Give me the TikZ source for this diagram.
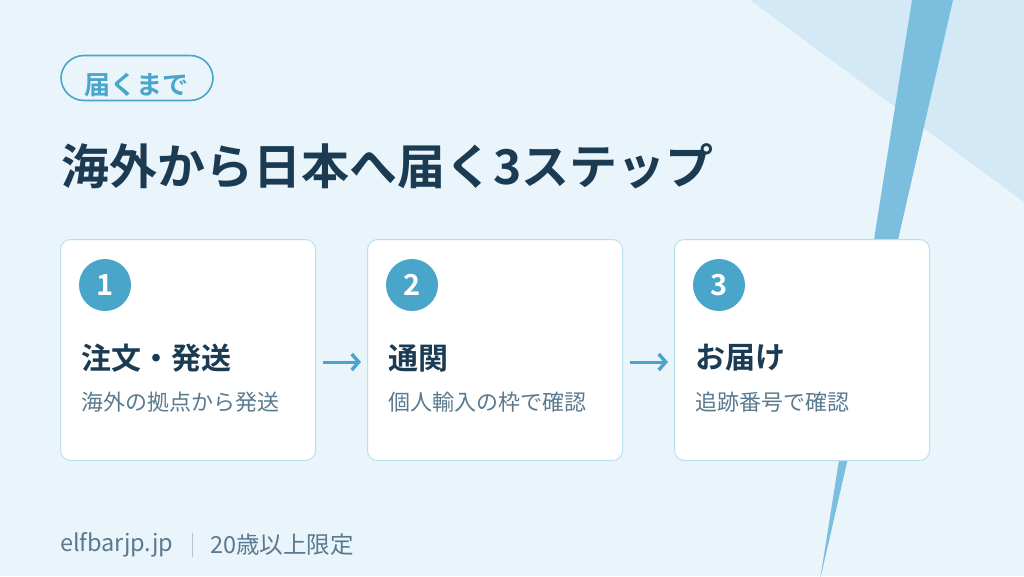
\documentclass[tikz,border=0pt]{standalone}
\usepackage{fontspec}
\setmainfont{Noto Sans CJK JP}[BoldFont={Noto Sans CJK JP Bold}]
\usepackage{tikz}
\usetikzlibrary{arrows.meta,positioning}

\definecolor{bgblue}{HTML}{EAF4FB}
\definecolor{paleblue}{HTML}{D3E9F6}
\definecolor{stripeblue}{HTML}{7BBEDE}
\definecolor{accent}{HTML}{4AA5CA}
\definecolor{navy}{HTML}{1B3B53}
\definecolor{slate}{HTML}{5B7A8F}
\definecolor{cardline}{HTML}{BCDFF0}

\begin{document}
\begin{tikzpicture}[
  x=1pt, y=-1pt,
  >={Straight Barb[length=7pt, width=16pt, line width=3.4pt]},
  card/.style={draw=cardline, fill=white, line width=1pt, rounded corners=10pt,
               minimum width=255pt, minimum height=221pt, inner sep=0pt},
  badge/.style={circle, fill=accent, text=white, minimum size=52pt, inner sep=0pt,
                font=\fontsize{29}{29}\selectfont\bfseries},
  steptitle/.style={anchor=west, inner sep=0pt, text=navy,
                    font=\fontsize{30}{30}\selectfont\bfseries},
  stepnote/.style={anchor=west, inner sep=0pt, text=slate,
                   font=\fontsize{22}{22}\selectfont},
  flow/.style={->, accent, line width=3pt},
  foot/.style={anchor=west, inner sep=0pt, text=slate,
               font=\fontsize{23.5}{23.5}\selectfont},
]
  % background and corner shapes
  \fill[bgblue] (0,0) rectangle (1024,576);
  \useasboundingbox (0,0) rectangle (1024,576);
  \fill[paleblue] (750,0) -- (1024,0) -- (1024,202) -- cycle;
  \fill[stripeblue] (912,0) -- (953,0) -- (820,580) -- cycle;

  % tag and heading
  \node[draw=accent, line width=1.6pt, rounded corners=23pt,
        minimum width=152pt, minimum height=45pt] (tag) at (137,78) {};
  \node[text=accent, inner sep=0pt, font=\fontsize{26}{26}\selectfont\bfseries]
       (tagtext) at (136,85) {届くまで};
  \node[anchor=west, inner sep=0pt, text=navy,
        font=\fontsize{48}{48}\selectfont\bfseries] (heading) at (61,166)
       {海外から日本へ届く3ステップ};

  % the three step cards
  \node[card] (card1) at (188,350) {};
  \node[card, right=51pt of card1] (card2) {};
  \node[card, right=51pt of card2] (card3) {};

  \node[badge] (num1) at ([shift={(45,46)}]card1.north west) {\raisebox{-3pt}{1}};
  \node[badge] (num2) at ([shift={(45,46)}]card2.north west) {\raisebox{-3pt}{2}};
  \node[badge] (num3) at ([shift={(45,46)}]card3.north west) {\raisebox{-3pt}{3}};

  \node[steptitle] (title1) at ([shift={(21,119)}]card1.north west) {注文・発送};
  \node[steptitle] (title2) at ([shift={(21,119)}]card2.north west) {通関};
  \node[steptitle] (title3) at ([shift={(21,119)}]card3.north west) {お届け};

  \node[stepnote] (note1) at ([shift={(21,163)}]card1.north west) {海外の拠点から発送};
  \node[stepnote] (note2) at ([shift={(21,163)}]card2.north west) {個人輸入の枠で確認};
  \node[stepnote] (note3) at ([shift={(21,163)}]card3.north west) {追跡番号で確認};

  % arrows between cards
  \draw[flow, shorten <=7pt, shorten >=6pt]
       ([yshift=-4pt]card1.east |- title1) -- ([yshift=-4pt]card2.west |- title1);
  \draw[flow, shorten <=7pt, shorten >=6pt]
       ([yshift=-4pt]card2.east |- title2) -- ([yshift=-4pt]card3.west |- title2);

  % footer
  \node[foot] (site) at (60,545) {elfbarjp.jp};
  \draw[slate!45, line width=1pt] (192,533) -- (192,557);
  \node[foot] (age) at (210,545) {20歳以上限定};
\end{tikzpicture}
\end{document}
